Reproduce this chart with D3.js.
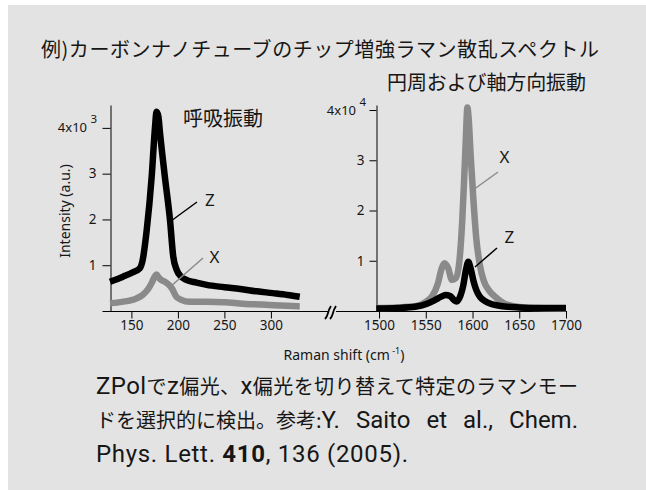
<!DOCTYPE html>
<html><head><meta charset="utf-8">
<script src="https://cdn.jsdelivr.net/npm/d3@7"></script>
<style>
html,body{margin:0;padding:0;background:#fff;}
svg{display:block;}
.jp{font-family:"Noto Sans CJK JP","Noto Sans",sans-serif;}
.ax{font-family:"Noto Sans","DejaVu Sans",sans-serif;}
.lat{font-family:Roboto,"Noto Sans",sans-serif;}
</style></head>
<body>
<svg id="c" width="646" height="490"></svg>
<script>
// ---- data ----
// Left panel: radial breathing mode region (cm^-1), intensity in units of 10^3
const leftShift = [127,141,152,159,162,166.5,171.8,175.4,177,179,180.8,186,191.5,195,198.7,203,209,220,231,250,267,285,302,318,331];
const leftZ     = [0.64,0.75,0.85,0.93,1.1,1.77,2.93,4.02,4.35,4.25,3.88,2.93,1.99,1.19,0.9,0.76,0.68,0.62,0.57,0.52,0.48,0.43,0.39,0.35,0.31];
const leftShiftX = [127,140,155,162,168,172,175,177,179,182,186,190,194,198,203,213,230,250,270,290,310,331];
const leftX      = [0.17,0.2,0.27,0.35,0.48,0.62,0.75,0.8,0.74,0.68,0.64,0.58,0.48,0.32,0.25,0.2,0.2,0.19,0.16,0.14,0.12,0.1];
// Right panel: G band region (cm^-1), intensity in units of 10^4
const rightShiftX = [1497,1520,1540,1550,1557,1563,1567,1570,1574,1578,1582,1586,1589,1591,1593,1594.5,1596,1598,1601,1604,1608,1612,1618,1625,1635,1650,1670,1700];
const rightX      = [0.06,0.07,0.1,0.18,0.3,0.55,0.85,0.95,0.85,0.62,0.65,1.0,1.8,2.6,3.5,4.05,3.8,3.1,2.2,1.45,0.9,0.6,0.4,0.27,0.14,0.08,0.06,0.05];
const rightShiftZ = [1497,1520,1540,1552,1560,1566,1571,1576,1580,1583,1587,1590,1593,1595.5,1598,1601,1604,1608,1613,1620,1630,1650,1670,1700];
const rightZ      = [0.05,0.06,0.09,0.15,0.22,0.28,0.32,0.3,0.22,0.19,0.3,0.5,0.82,0.98,0.85,0.6,0.42,0.28,0.2,0.14,0.1,0.07,0.06,0.06];
const leftXTicks = [150,200,250,300];
const rightXTicks = [1500,1550,1600,1650,1700];
const yTicks = [0,1,2,3,4];
const title = "例)カーボンナノチューブのチップ増強ラマン散乱スペクトル";
const subRight = "円周および軸方向振動";
const subLeft = "呼吸振動";
// note lines as [text, kind] segments: j = Japanese, l = Latin, b = Latin bold
const note1 = [["ZPol","l"],["で","j"],["z","l"],["偏光、","j"],["x","l"],["偏光を切り替えて特定のラマンモー","j"]];
const note2 = [["ドを選択的に検出。参考:","j"],["Y. Saito et al., Chem.","l"]];
const note3 = [["Phys. Lett. ","l"],["410","b"],[", 136 (2005).","l"]];

// ---- drawing ----
const svg = d3.select("#c");
const BG = "#e3e3e3", GRAY = "#8a8a8a", INK = "#161616";
svg.append("rect").attr("x",8).attr("y",5).attr("width",638).attr("height",485).attr("fill",BG);

const baseY = 311, topY = 105;
const xL = d3.scaleLinear().domain([127,333]).range([110,301.6]);
const yL = d3.scaleLinear().domain([0,4.5]).range([baseY,topY]);
const xR = d3.scaleLinear().domain([1497.5,1700]).range([376.7,566]);
const yR = d3.scaleLinear().domain([0,4.1]).range([baseY,topY]);

// full baseline across both panels
svg.append("line").attr("x1",103).attr("x2",567).attr("y1",baseY+0.5).attr("y2",baseY+0.5).attr("stroke","#000").attr("stroke-width",1);

function styleAxis(g){
  g.selectAll("path.domain").attr("stroke","#000");
  g.selectAll(".tick line").attr("stroke","#000");
  g.selectAll("text").attr("class","ax").attr("font-size",13.5).attr("fill",INK);
  g.attr("font-family",null).attr("font-size",null);
}
const fmt = d3.format("d");
// left axes
const gyL = svg.append("g").attr("transform","translate(110.5,0)")
  .call(d3.axisLeft(yL).tickValues(yTicks).tickSize(8).tickSizeOuter(0).tickPadding(6)
  .tickFormat(d => (d===0||d===4) ? "" : fmt(d)));
styleAxis(gyL);
const gxL = svg.append("g").attr("transform",`translate(0,${baseY+0.5})`)
  .call(d3.axisBottom(xL).tickValues(leftXTicks).tickSize(7).tickSizeOuter(0).tickPadding(2).tickFormat(fmt));
styleAxis(gxL); gxL.select("path.domain").remove();
// right axes
const gyR = svg.append("g").attr("transform","translate(376.5,0)")
  .call(d3.axisLeft(yR).tickValues(yTicks).tickSize(7).tickSizeOuter(0).tickPadding(5)
  .tickFormat(d => (d===0||d===4) ? "" : fmt(d)));
styleAxis(gyR);
const gxR = svg.append("g").attr("transform",`translate(0,${baseY+0.5})`)
  .call(d3.axisBottom(xR).tickValues(rightXTicks).tickSize(7).tickSizeOuter(0).tickPadding(2).tickFormat(fmt));
styleAxis(gxR); gxR.select("path.domain").remove();

// 4x10^n labels
function expLabel(x, y, exp){
  const t = svg.append("text").attr("class","ax").attr("x",x).attr("y",y).attr("text-anchor","end").attr("font-size",13).attr("fill",INK);
  t.append("tspan").text("4x10 ");
  t.append("tspan").attr("dy",-9).attr("font-size",11.5).text(exp);
}
expLabel(97, yL(4)+4.5, "3");
expLabel(366, yR(4)+4.5, "4");

// axis break symbol
svg.append("rect").attr("x",328).attr("y",baseY-3).attr("width",8).attr("height",7).attr("fill",BG);
[0,5].forEach(o=>{
  svg.append("path").attr("d",`M${325+o},${baseY+8} q2,-2 3,-6 q1,-4 3,-7`).attr("fill","none").attr("stroke","#000").attr("stroke-width",1.8);
});

// series
const lineL = (xs, ys) => d3.line().x((d,i)=>xL(xs[i])).y(d=>yL(d)).curve(d3.curveMonotoneX)(ys);
const lineR = (xs, ys) => d3.line().x((d,i)=>xR(xs[i])).y(d=>yR(d)).curve(d3.curveMonotoneX)(ys);
svg.append("path").attr("d",lineL(leftShiftX,leftX)).attr("fill","none").attr("stroke",GRAY).attr("stroke-width",6.5).attr("stroke-linejoin","round");
svg.append("path").attr("d",lineL(leftShift,leftZ)).attr("fill","none").attr("stroke","#000").attr("stroke-width",6.5).attr("stroke-linejoin","round");
svg.append("path").attr("d",lineR(rightShiftX,rightX)).attr("fill","none").attr("stroke",GRAY).attr("stroke-width",6.5).attr("stroke-linejoin","round");
svg.append("path").attr("d",lineR(rightShiftZ,rightZ)).attr("fill","none").attr("stroke","#000").attr("stroke-width",6.5).attr("stroke-linejoin","round");

// annotations
function ann(x1,y1,x2,y2,col,label,tx,ty){
  svg.append("line").attr("x1",x1).attr("y1",y1).attr("x2",x2).attr("y2",y2).attr("stroke",col).attr("stroke-width",1.5);
  svg.append("text").attr("class","ax").attr("x",tx).attr("y",ty).attr("font-size",17).attr("fill",INK).text(label);
}
ann(171,221,197,202,"#000","Z",205,206);
ann(170,287,203,258,GRAY,"X",209.5,263);
ann(473,190,498,172,GRAY,"X",499.5,163);
ann(475,267,497,248,"#000","Z",504.5,243);

// axis titles
svg.append("text").attr("class","ax").attr("transform","translate(70,211) rotate(-90)").attr("text-anchor","middle").attr("font-size",14).attr("fill",INK).text("Intensity (a.u.)");
const rt = svg.append("text").attr("class","ax").attr("x",344).attr("y",360).attr("text-anchor","middle").attr("font-size",14).attr("fill",INK);
rt.append("tspan").text("Raman shift (cm");
rt.append("tspan").attr("dy",-6).attr("font-size",9).text(" -1");
rt.append("tspan").attr("dy",6).text(")");

// Japanese texts
svg.append("text").attr("class","jp").attr("x",41).attr("y",57).attr("font-size",20).attr("fill",INK)
  .attr("textLength",558).attr("lengthAdjust","spacing").text(title);
svg.append("text").attr("class","jp").attr("x",387).attr("y",90).attr("font-size",20).attr("fill",INK)
  .attr("textLength",199).attr("lengthAdjust","spacing").text(subRight);
svg.append("text").attr("class","jp").attr("x",183).attr("y",126).attr("font-size",20).attr("fill",INK).text(subLeft);

function noteLine(segs, y){
  const t = svg.append("text").attr("class","jp").attr("x",96).attr("y",y).attr("font-size",20).attr("fill",INK);
  segs.forEach(([s,k])=>{
    const ts = t.append("tspan").text(s);
    if (k!=="j") ts.attr("class","lat").attr("font-size",24);
    if (k==="b") ts.attr("font-weight","bold");
  });
  return t;
}
const W = 482;
const l1 = noteLine(note1, 394);
if (l1.node().getComputedTextLength() < W) l1.attr("textLength",W).attr("lengthAdjust","spacing");
const l2 = noteLine(note2, 428);
const n2 = l2.node().getComputedTextLength();
const spaces = note2.map(s=>s[0]).join("").split(" ").length-1;
if (n2 < W && spaces) l2.attr("word-spacing", (W-n2)/spaces);
const l3 = noteLine(note3, 462);
if (l3.node().getComputedTextLength() < 312) l3.attr("textLength",312).attr("lengthAdjust","spacing");
</script>
</body></html>
